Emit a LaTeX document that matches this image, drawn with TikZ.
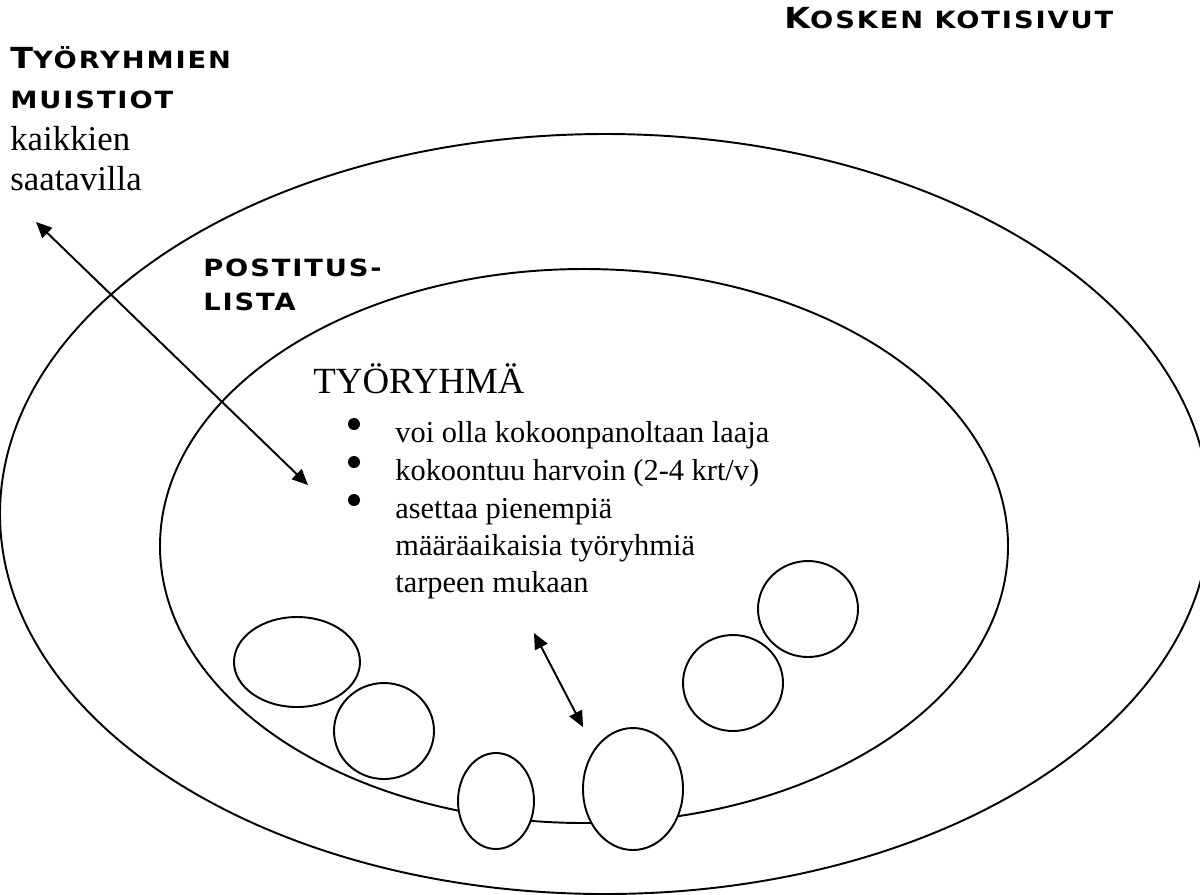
\documentclass[tikz,border=0pt]{standalone}
\usepackage{fontspec}
\setmainfont{Liberation Serif}
\newfontfamily\otsikko[FakeStretch=1.15,LetterSpace=8]{DejaVu Sans}
\usetikzlibrary{arrows.meta}

\newcommand{\isokirjain}[1]{{\fontsize{16.5}{18}\selectfont #1}}

\tikzset{
  kuori/.style={line width=1.1pt},
  pieni/.style={draw, line width=1.1pt, fill=white},
  nuoli/.style={{Triangle[length=9pt,width=8pt]}-{Triangle[length=9pt,width=8pt]}, line width=1.1pt},
  kapiteeli/.style={anchor=base west, inner sep=0pt, font=\otsikko\bfseries\fontsize{13.5}{15}\selectfont},
  teksti/.style={anchor=base west, inner sep=0pt, font=\fontsize{17.3}{21}\selectfont},
  pallo/.style={circle, fill, inner sep=0pt, minimum size=0.24cm}
}

\begin{document}
\begin{tikzpicture}[x=0.02cm, y=-0.02cm]
  \useasboundingbox (0,0) rectangle (1200,894);

  % Kotisivut and postituslista
  \draw[kuori] (605,514) ellipse [x radius=605, y radius=380];
  \draw[kuori] (584,546) ellipse [x radius=424, y radius=277];

  % pienemmat tyoryhmat
  \draw[pieni] (297,662) ellipse [x radius=63, y radius=45];
  \draw[pieni] (384,731) ellipse [x radius=50, y radius=48];
  \draw[pieni] (496,801) ellipse [x radius=38, y radius=48];
  \draw[pieni] (633,789) ellipse [x radius=50, y radius=61];
  \draw[pieni] (733,683) ellipse [x radius=50, y radius=48];
  \draw[pieni] (808,609) ellipse [x radius=50, y radius=48];

  % otsikot
  \node[kapiteeli] (koti) at (784,28) {\isokirjain{K}OSKEN KOTISIVUT};
  \node[kapiteeli] (muistiot1) at (10,68) {\isokirjain{T}YÖRYHMIEN};
  \node[kapiteeli] (muistiot2) at (10,108) {MUISTIOT};
  \node[anchor=base west, inner sep=0pt, font=\fontsize{19.8}{23}\selectfont] (saatavilla1) at (10,150) {kaikkien};
  \node[anchor=base west, inner sep=0pt, font=\fontsize{19.8}{23}\selectfont] (saatavilla2) at (10,190) {saatavilla};
  \node[kapiteeli] (lista1) at (203,276) {POSTITUS-};
  \node[kapiteeli] (lista2) at (203,310) {LISTA};

  % tyoryhma
  \node[anchor=base west, inner sep=0pt, font=\fontsize{21}{25}\selectfont] (ryhma) at (313,393) {TYÖRYHMÄ};
  \node[pallo] (p1) at (354,424) {};
  \node[pallo] (p2) at (354,462) {};
  \node[pallo] (p3) at (354,500) {};
  \node[teksti] (r1) at (395,442) {voi olla kokoonpanoltaan laaja};
  \node[teksti] (r2) at (395,480) {kokoontuu harvoin (2-4 krt/v)};
  \node[teksti] (r3) at (395,518) {asettaa pienempiä};
  \node[teksti] (r4) at (395,555) {määräaikaisia työryhmiä};
  \node[teksti] (r5) at (395,592) {tarpeen mukaan};

  % nuolet
  \coordinate (ulos) at (36,222);
  \coordinate (sisaan) at (308,485);
  \coordinate (ylos) at (534,633);
  \coordinate (alas) at (583,727);
  \draw[nuoli] (ulos) -- (sisaan);
  \draw[nuoli] (ylos) -- (alas);
\end{tikzpicture}
\end{document}
